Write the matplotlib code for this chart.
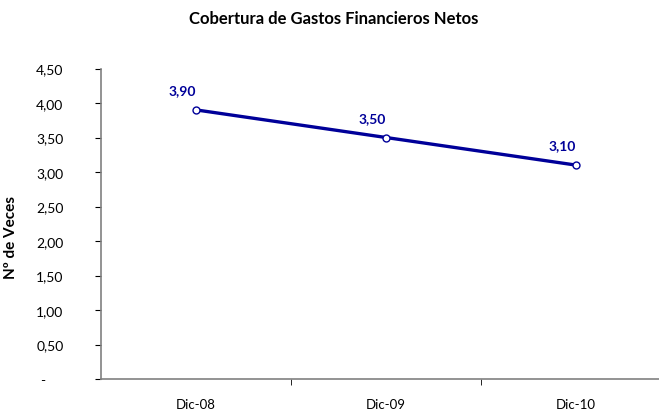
import matplotlib.pyplot as plt
from matplotlib.ticker import FixedLocator, FuncFormatter

categories = ["Dic-08", "Dic-09", "Dic-10"]
values = [3.90, 3.50, 3.10]
yticks = [0, 0.5, 1.0, 1.5, 2.0, 2.5, 3.0, 3.5, 4.0, 4.5]

plt.rcParams['font.family'] = ['Lato', 'DejaVu Sans']
navy = "#000099"
gray = "#808080"

fig = plt.figure(figsize=(6.59, 4.14), dpi=100)
ax = fig.add_axes([101 / 659, 34 / 414, 570 / 659, 310.5 / 414])

x = list(range(len(categories)))
ax.plot(x, values, color=navy, lw=2.4, marker="o", ms=5,
        mfc="white", mec=navy, mew=1.0, zorder=3)
for xi, v in zip(x, values):
    ax.annotate(f"{v:.2f}".replace(".", ","), (xi, v), xytext=(-10, 10),
                textcoords="offset points", ha="center", va="bottom",
                color=navy, fontsize=10, fontweight="bold")

ax.set_xlim(-0.5, 2.5)
ax.set_ylim(0, 4.5)
ax.set_xticks(x)
ax.set_xticklabels(categories, fontsize=9.5)
ax.xaxis.set_minor_locator(FixedLocator([0.5, 1.5]))
ax.tick_params(axis="x", which="major", length=0, pad=14)
ax.tick_params(axis="x", which="minor", length=4, color="black", direction="out")

ax.set_yticks(yticks)
ax.yaxis.set_major_formatter(FuncFormatter(
    lambda v, p: "-     " if v == 0 else f"{v:.2f}".replace(".", ",")))
ax.tick_params(axis="y", length=4, color="black", direction="out", pad=23, labelsize=10)

for s in ["top", "right"]:
    ax.spines[s].set_visible(False)
for s in ["left", "bottom"]:
    ax.spines[s].set_color(gray)
    ax.spines[s].set_linewidth(1.2)

ax.set_ylabel("Nº de Veces", fontsize=11, fontweight="bold")
ax.yaxis.set_label_coords(-0.145, 0.46)
fig.text(0.506, 0.955, "Cobertura de Gastos Financieros Netos",
         ha="center", va="center", fontsize=12, fontweight="bold")

fig.savefig("out.png", dpi=100)
